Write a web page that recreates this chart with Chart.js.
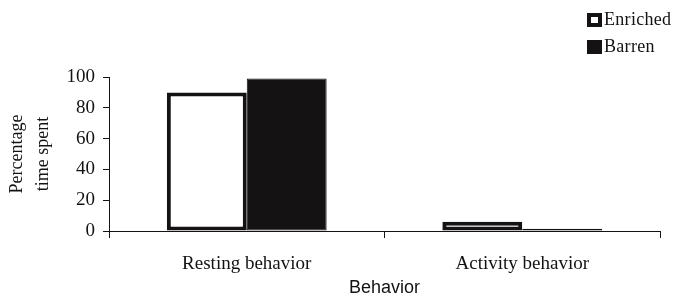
<!DOCTYPE html>
<html lang="en">
<head>
  <meta charset="UTF-8">
  <title>Percentage time spent by behavior</title>
  <script src="https://cdn.jsdelivr.net/npm/chart.js"></script>
  <style>
    body { margin: 0; background: #fff; }
    #wrap { position: relative; width: 678px; height: 305px; }
    .legend {
      position: absolute; left: 587px;
      font-family: "Liberation Serif", serif; font-size: 18px; color: #141213;
      display: flex; align-items: center; letter-spacing: 0.3px;
    }
    .legend .box { width: 15px; height: 14px; box-sizing: border-box; margin-right: 2px; }
  </style>
</head>
<body>
<div id="wrap">
  <canvas id="chart" width="678" height="305"></canvas>
  <div class="legend" style="top:9px"><span class="box" style="border:4px solid #141213;background:#fff"></span>Enriched</div>
  <div class="legend" style="top:36px"><span class="box" style="background:#141213"></span>Barren</div>
</div>
<script>
const categories = ["Resting behavior", "Activity behavior"];
const enriched = [90, 6];
const barren = [99, 1.5];
const yTicks = [0, 20, 40, 60, 80, 100];

const ink = '#141213';
const serif = '"Liberation Serif", "Times New Roman", serif';

new Chart(document.getElementById('chart'), {
  type: 'bar',
  data: {
    labels: categories,
    datasets: [
      { label: 'Enriched', data: enriched, backgroundColor: '#fff', borderColor: ink, borderWidth: 4, borderSkipped: false },
      { label: 'Barren', data: barren, backgroundColor: ink, borderColor: ink, borderWidth: 1, borderSkipped: false }
    ]
  },
  options: {
    responsive: false,
    animation: false,
    layout: { padding: { left: 0, top: 77, right: 18, bottom: 0 } },
    datasets: { bar: { categoryPercentage: 0.58, barPercentage: 1.0 } },
    plugins: { legend: { display: false }, tooltip: { enabled: false } },
    scales: {
      x: {
        afterFit: s => { s.height = 74; },
        grid: { offset: true, drawOnChartArea: false, color: ink, tickLength: 7, lineWidth: 1 },
        border: { color: ink, width: 1 },
        ticks: { color: ink, font: { family: serif, size: 19 }, padding: 15 },
        title: { display: true, text: 'Behavior', color: ink,
          font: { family: '"Liberation Sans", Arial, sans-serif', size: 18 }, padding: { top: 0, bottom: 6 } }
      },
      y: {
        min: 0, max: 100,
        afterFit: s => { s.width = 109; },
        afterBuildTicks: s => { s.ticks = yTicks.map(v => ({ value: v })); },
        grid: { drawOnChartArea: false, color: ink, tickLength: 6, lineWidth: 1 },
        border: { color: ink, width: 1 },
        ticks: { color: ink, font: { family: serif, size: 19 }, padding: 8 },
        title: { display: true, text: ['Percentage', 'time spent'], color: ink,
          font: { family: serif, size: 18, lineHeight: 1.45 }, padding: { top: 4 } }
      }
    }
  }
});
</script>
</body>
</html>
